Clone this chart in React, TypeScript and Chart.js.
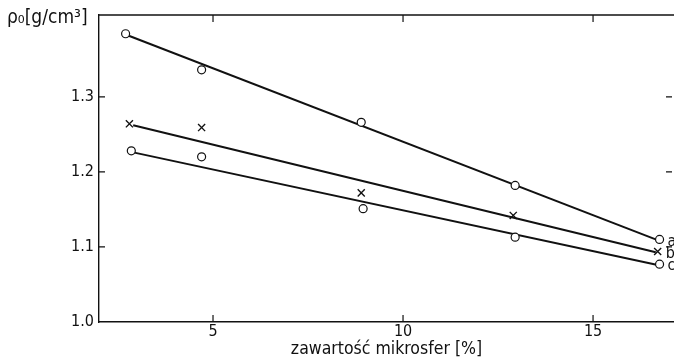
import React, { useEffect, useRef } from "react";
import { Chart, registerables } from "chart.js";

Chart.register(...registerables);

// Measured points (x: microsphere content %, y: density g/cm3)
const xA = [2.7, 4.7, 8.9, 12.95, 16.75];
const yA = [1.384, 1.336, 1.266, 1.182, 1.11];
const xB = [2.8, 4.7, 8.9, 12.9, 16.7];
const yB = [1.264, 1.259, 1.172, 1.142, 1.094];
const xC = [2.85, 4.7, 8.95, 12.95, 16.75];
const yC = [1.228, 1.22, 1.151, 1.113, 1.077];

// Fitted lines (endpoints)
const fitAx = [2.75, 16.75];
const fitAy = [1.382, 1.108];
const fitBx = [2.9, 16.65];
const fitBy = [1.262, 1.093];
const fitCx = [2.9, 16.7];
const fitCy = [1.226, 1.076];

const seriesLabels = ["a", "b", "c"];
const xTicks = [5, 10, 15];
const yTicks = [1.0, 1.1, 1.2, 1.3];
const xTitle = "zawartość mikrosfer [%]";
const yTitle = "ρ₀[g/cm³]";

const FONT = "'DejaVu Sans Condensed', 'Liberation Sans Narrow', sans-serif";
const INK = "#111";

const pts = (xs: number[], ys: number[]) => xs.map((x, i) => ({ x, y: ys[i] }));

const framePlugin = {
  id: "frame",
  afterDraw(chart: any) {
    const { ctx, chartArea } = chart;
    const xs = chart.scales.x;
    const ys = chart.scales.y;
    ctx.save();
    ctx.strokeStyle = INK;
    ctx.lineWidth = 1.4;
    // top border
    ctx.beginPath();
    ctx.moveTo(chartArea.left, chartArea.top);
    ctx.lineTo(chartArea.right, chartArea.top);
    ctx.stroke();
    // inward ticks
    ctx.lineWidth = 1.2;
    xTicks.forEach((v) => {
      const px = xs.getPixelForValue(v);
      ctx.beginPath();
      ctx.moveTo(px, chartArea.bottom);
      ctx.lineTo(px, chartArea.bottom - 7);
      ctx.moveTo(px, chartArea.top);
      ctx.lineTo(px, chartArea.top + 7);
      ctx.stroke();
    });
    yTicks.slice(1).forEach((v) => {
      const py = ys.getPixelForValue(v);
      ctx.beginPath();
      ctx.moveTo(chartArea.left, py);
      ctx.lineTo(chartArea.left + 6, py);
      ctx.moveTo(chartArea.right - 2, py);
      ctx.lineTo(chartArea.right - 8, py);
      ctx.stroke();
    });
    // y title
    ctx.fillStyle = INK;
    ctx.font = `19px ${FONT}`;
    ctx.textAlign = "left";
    ctx.textBaseline = "middle";
    ctx.fillText(yTitle, 7, 18);
    // series labels
    const ends = [
      { x: xA[xA.length - 1], y: yA[yA.length - 1] },
      { x: xB[xB.length - 1], y: yB[yB.length - 1] },
      { x: xC[xC.length - 1], y: yC[yC.length - 1] },
    ];
    ctx.font = `16px ${FONT}`;
    ends.forEach((p, i) => {
      ctx.fillText(seriesLabels[i], xs.getPixelForValue(p.x) + 8, ys.getPixelForValue(p.y) + 2);
    });
    ctx.restore();
  },
};

export default function App() {
  const ref = useRef<HTMLCanvasElement | null>(null);
  useEffect(() => {
    if (!ref.current) return;
    const circle = {
      showLine: false,
      pointStyle: "circle",
      pointRadius: 4,
      pointBorderWidth: 1.2,
      pointBorderColor: INK,
      pointBackgroundColor: "#fff",
      order: 1,
    };
    const cross = {
      showLine: false,
      pointStyle: "crossRot",
      pointRadius: 5,
      pointBorderWidth: 1.4,
      pointBorderColor: INK,
      pointBackgroundColor: INK,
      order: 1,
    };
    const line = {
      showLine: true,
      pointRadius: 0,
      borderColor: INK,
      borderWidth: 2,
      order: 2,
    };
    const chart = new Chart(ref.current, {
      type: "scatter",
      data: {
        datasets: [
          { ...line, label: "fit a", data: pts(fitAx, fitAy) },
          { ...line, label: "fit b", data: pts(fitBx, fitBy) },
          { ...line, label: "fit c", data: pts(fitCx, fitCy) },
          { ...circle, label: "a", data: pts(xA, yA) },
          { ...cross, label: "b", data: pts(xB, yB) },
          { ...circle, label: "c", data: pts(xC, yC) },
        ] as any,
      },
      options: {
        responsive: false,
        animation: false,
        layout: { autoPadding: false, padding: { top: 15, right: 0, left: 0, bottom: 0 } },
        plugins: { legend: { display: false }, tooltip: { enabled: false } },
        scales: {
          x: {
            type: "linear",
            min: 2,
            max: 17.13,
            grid: { display: false, drawTicks: false },
            border: { display: true, color: INK, width: 1.4 },
            afterBuildTicks: (s: any) => {
              s.ticks = xTicks.map((value) => ({ value }));
            },
            afterFit: (s: any) => {
              s.height = 38;
            },
            ticks: {
              color: INK,
              font: { family: FONT, size: 16 },
              padding: 0,
              callback: (v: any) => String(v),
            },
            title: {
              display: true,
              text: xTitle,
              color: INK,
              font: { family: FONT, size: 17.5 },
              padding: { top: 0, bottom: 0 },
            },
          },
          y: {
            type: "linear",
            min: 1.0,
            max: 1.409,
            grid: { display: false, drawTicks: false },
            border: { display: true, color: INK, width: 1.4 },
            afterBuildTicks: (s: any) => {
              s.ticks = yTicks.map((value) => ({ value }));
            },
            afterFit: (s: any) => {
              s.width = 99;
            },
            ticks: {
              color: INK,
              font: { family: FONT, size: 16 },
              padding: 5,
              callback: (v: any) => Number(v).toFixed(1),
            },
          },
        },
      },
      plugins: [framePlugin],
    });
    return () => chart.destroy();
  }, []);
  return (
    <div style={{ position: "fixed", left: 0, top: 0, width: 674, height: 360, background: "#fff" }}>
      <canvas ref={ref} width={674} height={360} />
    </div>
  );
}
